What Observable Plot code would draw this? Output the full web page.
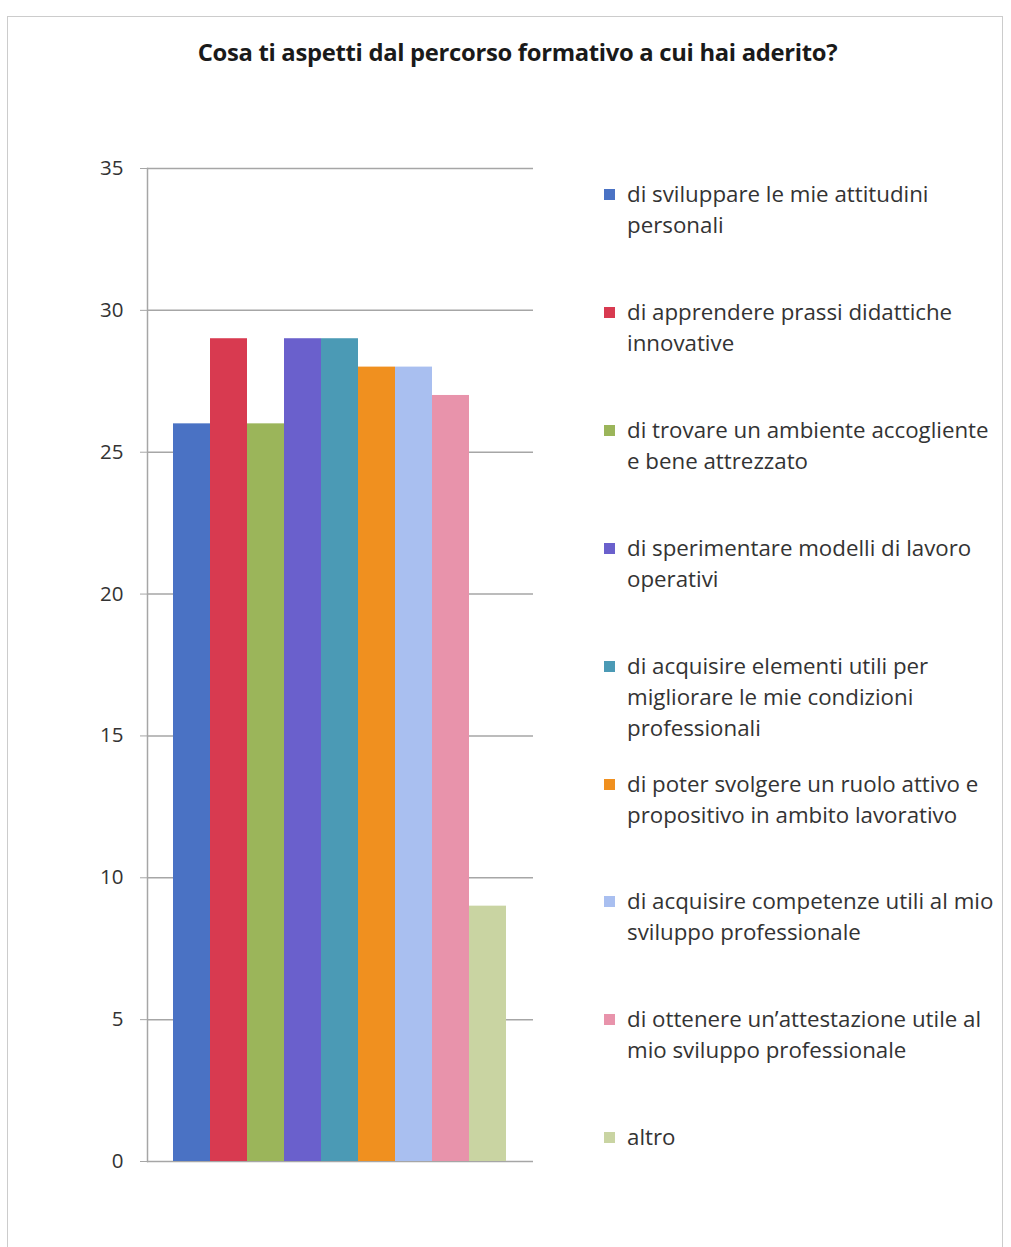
<!DOCTYPE html>
<html>
<head>
<meta charset="utf-8">
<script src="https://cdn.jsdelivr.net/npm/d3@7"></script>
<script src="https://cdn.jsdelivr.net/npm/@observablehq/plot@0.6"></script>
<style>
  html, body { margin: 0; padding: 0; background: #fff; }
  #wrap { position: relative; width: 1011px; height: 1247px; overflow: hidden; font-family: "Open Sans", sans-serif; }
  #border { position: absolute; left: 7px; top: 16px; width: 996px; height: 1240px; border: 1.5px solid #cccccc; box-sizing: border-box; }
  #title { position: absolute; left: 0; width: 1035px; top: 36px; text-align: center; font-weight: bold; font-size: 23.8px; color: #1a1a1a; letter-spacing: -0.3px; }
  #chart { position: absolute; left: 0; top: 0; }
  #legend { position: absolute; left: 604px; top: 178px; }
  .item { position: absolute; left: 0; width: 420px; font-size: 22.3px; line-height: 31px; color: #333; }
  .sw { position: absolute; left: 0; top: 11px; width: 11px; height: 11px; }
  .lab { margin-left: 23px; }
</style>
</head>
<body>
<div id="wrap">
  <div id="border"></div>
  <div id="chart"></div>
  <div id="title">Cosa ti aspetti dal percorso formativo a cui hai aderito?</div>
  <div id="legend"></div>
</div>
<script>
const categories = [
  "di sviluppare le mie attitudini personali",
  "di apprendere prassi didattiche innovative",
  "di trovare un ambiente accogliente e bene attrezzato",
  "di sperimentare modelli di lavoro operativi",
  "di acquisire elementi utili per migliorare le mie condizioni professionali",
  "di poter svolgere un ruolo attivo e propositivo in ambito lavorativo",
  "di acquisire competenze utili al mio sviluppo professionale",
  "di ottenere un'attestazione utile al mio sviluppo professionale",
  "altro"
];
const legendLines = [
  ["di sviluppare le mie attitudini", "personali"],
  ["di apprendere prassi didattiche", "innovative"],
  ["di trovare un ambiente accogliente", "e bene attrezzato"],
  ["di sperimentare modelli di lavoro", "operativi"],
  ["di acquisire elementi utili per", "migliorare le mie condizioni", "professionali"],
  ["di poter svolgere un ruolo attivo e", "propositivo in ambito lavorativo"],
  ["di acquisire competenze utili al mio", "sviluppo professionale"],
  ["di ottenere un\u2019attestazione utile al", "mio sviluppo professionale"],
  ["altro"]
];
const values = [26, 29, 26, 29, 29, 28, 28, 27, 9];
const colors = ["#4a72c4", "#d83a50", "#9bb55a", "#6a60cc", "#4b9ab5", "#f0901f", "#a9bff0", "#e893ab", "#c9d4a2"];
const yTicks = [0, 5, 10, 15, 20, 25, 30, 35];

const data = categories.map((c, i) => ({category: c, value: values[i]}));

const chart = Plot.plot({
  width: 1011,
  height: 1247,
  marginLeft: 147,
  marginRight: 478,
  marginTop: 168,
  marginBottom: 86,
  style: {fontFamily: "Open Sans, sans-serif", fontSize: "20px", color: "#333", background: "transparent"},
  x: {domain: categories, padding: 0, insetLeft: 22, insetRight: 24, axis: null},
  y: {domain: [0, 35], ticks: yTicks},
  color: {domain: categories, range: colors},
  marks: [
    Plot.ruleY(yTicks, {stroke: "#a6a6a6", strokeWidth: 1.5}),
    Plot.axisY({ticks: yTicks, tickSize: 7, tickPadding: 17, stroke: "#a6a6a6", fill: "#333", fontSize: 20.5, label: null}),
    Plot.barY(data, {x: "category", y: "value", fill: "category"}),
    Plot.frame({anchor: "left", stroke: "#a6a6a6", strokeWidth: 1.5})
  ]
});
document.getElementById("chart").appendChild(chart);

const legend = document.getElementById("legend");
legendLines.forEach((lines, i) => {
  const it = document.createElement("div");
  it.className = "item";
  it.style.top = (i * 117.9) + "px";
  const sw = document.createElement("div");
  sw.className = "sw";
  sw.style.background = colors[i];
  it.appendChild(sw);
  const lab = document.createElement("div");
  lab.className = "lab";
  lab.innerHTML = lines.join("<br>");
  it.appendChild(lab);
  legend.appendChild(it);
});
</script>
</body>
</html>
